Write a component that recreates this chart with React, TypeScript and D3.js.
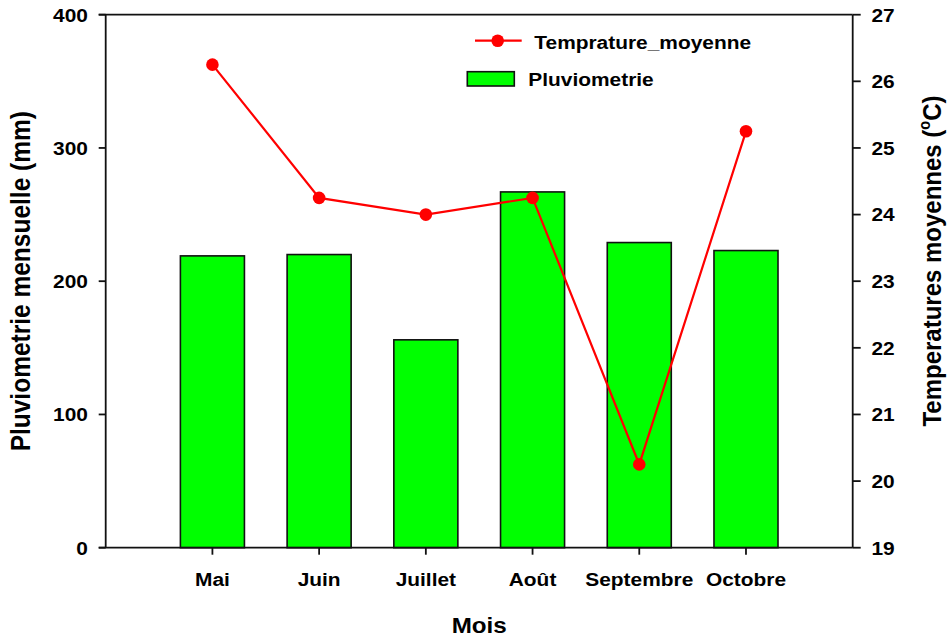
import React from "react";
import * as d3 from "d3";

const months = ["Mai", "Juin", "Juillet", "Août", "Septembre", "Octobre"];
const pluviometrie = [219, 220, 156, 267, 229, 223];
const temperature = [26.25, 24.25, 24.0, 24.25, 20.25, 25.25];
const leftTicks = [0, 100, 200, 300, 400];
const rightTicks = [19, 20, 21, 22, 23, 24, 25, 26, 27];

const W = 949;
const H = 637;
const L = 105.7;
const R = 852.7;
const T = 14.7;
const B = 547.7;
const SX = 1.1;
const FONT = "'Liberation Sans', Arial, Helvetica, sans-serif";

function Txt(props: {
  x: number;
  y: number;
  size: number;
  anchor?: string;
  rotate?: number;
  children: React.ReactNode;
}) {
  const { x, y, size, anchor = "start", rotate = 0, children } = props;
  return (
    <g transform={`translate(${x},${y}) scale(${SX},1) rotate(${rotate})`}>
      <text
        x={0}
        y={0}
        fontFamily={FONT}
        fontWeight="bold"
        fontSize={size}
        textAnchor={anchor}
        fill="#000"
      >
        {children}
      </text>
    </g>
  );
}

export default function App() {
  const x = d3.scalePoint<string>().domain(months).range([L, R]).padding(1);
  const step = x.step();
  const barW = step * 0.6;
  const yL = d3.scaleLinear().domain([0, 400]).range([B, T]);
  const yR = d3.scaleLinear().domain([19, 27]).range([B, T]);

  const line = d3
    .line<number>()
    .x((_, i) => x(months[i]) as number)
    .y((d) => yR(d));

  return (
    <svg
      width={W}
      height={H}
      style={{ position: "absolute", left: 0, top: 0, background: "#fff" }}
    >
      <rect x={0} y={0} width={W} height={H} fill="#fff" />
      {/* bars */}
      {pluviometrie.map((v, i) => (
        <rect
          key={months[i]}
          x={(x(months[i]) as number) - barW / 2}
          y={yL(v)}
          width={barW}
          height={yL(0) - yL(v)}
          fill="#00FF00"
          stroke="#111"
          strokeWidth={1.6}
        />
      ))}
      {/* frame */}
      <line x1={L} x2={L} y1={T} y2={B} stroke="#111" strokeWidth={1.8} />
      <line x1={R} x2={R} y1={T} y2={B} stroke="#111" strokeWidth={1.8} />
      <line x1={L - 7} x2={R} y1={T} y2={T} stroke="#111" strokeWidth={1.8} />
      <line x1={L - 7} x2={R} y1={B} y2={B} stroke="#111" strokeWidth={1.8} />
      {/* left ticks */}
      {leftTicks.map((t) => (
        <g key={"l" + t}>
          <line x1={L - 7} x2={L} y1={yL(t)} y2={yL(t)} stroke="#111" strokeWidth={1.8} />
          <Txt x={88} y={yL(t) + 6.8} size={19} anchor="end">
            {t}
          </Txt>
        </g>
      ))}
      {/* right ticks */}
      {rightTicks.map((t) => (
        <g key={"r" + t}>
          <line x1={R} x2={R + 8} y1={yR(t)} y2={yR(t)} stroke="#111" strokeWidth={1.8} />
          <Txt x={871.5} y={yR(t) + 6.8} size={19} anchor="start">
            {t}
          </Txt>
        </g>
      ))}
      {/* bottom ticks */}
      {months.map((m) => (
        <g key={"b" + m}>
          <line
            x1={x(m) as number}
            x2={x(m) as number}
            y1={B}
            y2={B + 7}
            stroke="#111"
            strokeWidth={1.8}
          />
          <Txt x={x(m) as number} y={586} size={19} anchor="middle">
            {m}
          </Txt>
        </g>
      ))}
      {/* temperature line */}
      <path d={line(temperature) || ""} fill="none" stroke="#FF0000" strokeWidth={2.2} />
      {temperature.map((v, i) => (
        <circle key={"c" + i} cx={x(months[i]) as number} cy={yR(v)} r={6.3} fill="#FF0000" />
      ))}
      {/* legend */}
      <line x1={475} x2={521.7} y1={40.7} y2={40.7} stroke="#FF0000" strokeWidth={2.2} />
      <circle cx={497.7} cy={40.7} r={6.3} fill="#FF0000" />
      <Txt x={534.3} y={49} size={19}>
        Temprature_moyenne
      </Txt>
      <rect x={467.3} y={71.7} width={47} height={14.3} fill="#00FF00" stroke="#111" strokeWidth={1.6} />
      <Txt x={528.3} y={86} size={19}>
        Pluviometrie
      </Txt>
      {/* axis titles */}
      <Txt x={(L + R) / 2} y={633} size={22} anchor="middle">
        Mois
      </Txt>
      <Txt x={30} y={(T + B) / 2} size={24.5} anchor="middle" rotate={-90}>
        Pluviometrie mensuelle (mm)
      </Txt>
      <Txt x={941} y={261} size={24} anchor="middle" rotate={-90}>
        Temperatures moyennes (
        <tspan fontSize={14.5} dy={-10}>
          o
        </tspan>
        <tspan dy={10}>C)</tspan>
      </Txt>
    </svg>
  );
}
